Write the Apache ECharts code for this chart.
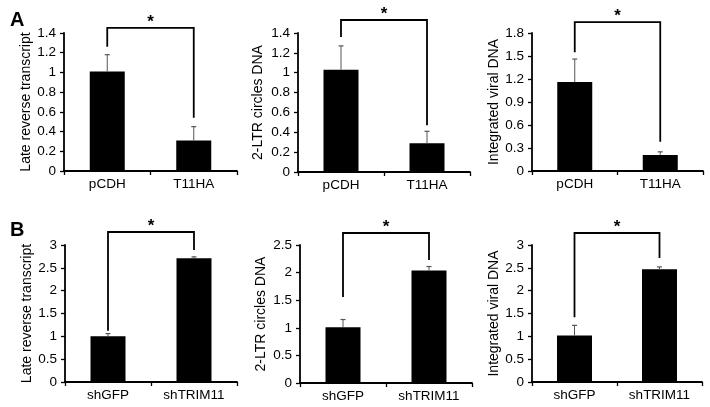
<!DOCTYPE html>
<html>
<head>
<meta charset="utf-8">
<script src="https://cdn.jsdelivr.net/npm/echarts@6/dist/echarts.min.js"></script>
<style>html,body{margin:0;padding:0;background:#fff}#c{width:710px;height:407px}</style>
</head>
<body>
<div id="c"></div>
<script>
// ---- data ----
const catsA = ['pCDH', 'T11HA'];
const catsB = ['shGFP', 'shTRIM11'];
const namesRow = ['Late reverse transcript', '2-LTR circles DNA', 'Integrated viral DNA'];

const lateA = [1.01, 0.31];
const lateAErr = [1.18, 0.45];
const ltrA = [1.03, 0.29];
const ltrAErr = [1.27, 0.41];
const intA = [1.16, 0.21];
const intAErr = [1.46, 0.25];

const lateB = [1.00, 2.71];
const lateBErr = [1.06, 2.74];
const ltrB = [1.01, 2.04];
const ltrBErr = [1.15, 2.11];
const intB = [1.02, 2.47];
const intBErr = [1.24, 2.52];

// bracket: [top, left end, right end]
const bracketLateA = [1.451, 1.26, 0.54];
const bracketLtrA = [1.531, 1.36, 0.47];
const bracketIntA = [1.943, 1.55, 0.38];
const bracketLateB = [3.285, 1.12, 2.89];
const bracketLtrB = [2.717, 1.56, 2.23];
const bracketIntB = [3.263, 1.42, 2.715];

// axis scales: [max, interval]
const axisLateA = [1.4, 0.2];
const axisLtrA = [1.4, 0.2];
const axisIntA = [1.8, 0.3];
const axisLateB = [3, 0.5];
const axisLtrB = [2.5, 0.5];
const axisIntB = [3, 0.5];

const panels = [
  {cats: catsA, name: namesRow[0], vals: lateA, err: lateAErr, br: bracketLateA, ax: axisLateA},
  {cats: catsA, name: namesRow[1], vals: ltrA, err: ltrAErr, br: bracketLtrA, ax: axisLtrA},
  {cats: catsA, name: namesRow[2], vals: intA, err: intAErr, br: bracketIntA, ax: axisIntA},
  {cats: catsB, name: namesRow[0], vals: lateB, err: lateBErr, br: bracketLateB, ax: axisLateB},
  {cats: catsB, name: namesRow[1], vals: ltrB, err: ltrBErr, br: bracketLtrB, ax: axisLtrB},
  {cats: catsB, name: namesRow[2], vals: intB, err: intBErr, br: bracketIntB, ax: axisIntB}
];

// layout
const grids = [
  {left: 64, top: 33, width: 173, height: 138},
  {left: 298, top: 33, width: 172, height: 139},
  {left: 532, top: 33, width: 171, height: 138},
  {left: 65, top: 245, width: 172, height: 137},
  {left: 300, top: 245, width: 172, height: 138},
  {left: 532, top: 245, width: 170, height: 137}
];
const nameGaps = [30, 33, 30, 30, 32, 31];

const FONT = 'Liberation Sans, Arial, sans-serif';
const option = {
  animation: false,
  backgroundColor: '#fff',
  textStyle: {fontFamily: FONT},
  title: [
    {text: 'A', left: 5, top: 5, textStyle: {fontSize: 20, fontWeight: 'bold', color: '#000', fontFamily: FONT}},
    {text: 'B', left: 5, top: 215, textStyle: {fontSize: 20, fontWeight: 'bold', color: '#000', fontFamily: FONT}}
  ],
  grid: grids.map(g => Object.assign({containLabel: false}, g)),
  xAxis: panels.map((p, i) => ({
    type: 'category', gridIndex: i, data: p.cats,
    axisLine: {lineStyle: {color: '#000', width: 1.8}},
    axisTick: {show: true, length: 4, lineStyle: {color: '#000', width: 1.3}},
    axisLabel: {color: '#000', fontSize: 13.5, margin: 6, fontFamily: FONT}
  })),
  yAxis: panels.map((p, i) => ({
    type: 'value', gridIndex: i, min: 0, max: p.ax[0], interval: p.ax[1],
    name: p.name, nameLocation: 'middle', nameGap: nameGaps[i],
    nameTextStyle: {color: '#000', fontSize: 14, fontFamily: FONT},
    splitLine: {show: false},
    axisLine: {show: true, lineStyle: {color: '#000', width: 1.8}},
    axisTick: {show: true, length: 4, lineStyle: {color: '#000', width: 1.3}},
    axisLabel: {color: '#000', fontSize: 13.5, margin: 8, fontFamily: FONT}
  })),
  series: []
};

panels.forEach((p, i) => {
  option.series.push({
    type: 'bar', xAxisIndex: i, yAxisIndex: i, data: p.vals, barWidth: 35,
    itemStyle: {color: '#000'}, z: 2
  });
  option.series.push({
    type: 'custom', xAxisIndex: i, yAxisIndex: i, z: 3,
    data: p.vals.map((v, k) => [k, v, p.err[k]]),
    renderItem: function (params, api) {
      const a = api.coord([api.value(0), api.value(1)]);
      const b = api.coord([api.value(0), api.value(2)]);
      return {
        type: 'group', children: [
          {type: 'line', shape: {x1: a[0], y1: a[1], x2: b[0], y2: b[1]}, style: {stroke: '#555', lineWidth: 1}},
          {type: 'line', shape: {x1: b[0] - 2.5, y1: b[1], x2: b[0] + 2.5, y2: b[1]}, style: {stroke: '#555', lineWidth: 1.2}}
        ]
      };
    }
  });
  option.series.push({
    type: 'custom', xAxisIndex: i, yAxisIndex: i, z: 4, clip: false,
    data: [p.br],
    renderItem: function (params, api) {
      const top = api.value(0), l = api.value(1), r = api.value(2);
      const p1 = api.coord([0, l]);
      const p2 = api.coord([0, top]);
      const p3 = api.coord([1, top]);
      const p4 = api.coord([1, r]);
      return {
        type: 'group', children: [
          {type: 'polyline', shape: {points: [p1, p2, p3, p4]}, style: {stroke: '#000', lineWidth: 1.8, fill: null}},
          {type: 'text', x: (p2[0] + p3[0]) / 2, y: p2[1] + 3,
           style: {text: '*', fontSize: 17, fontWeight: 'bold', fill: '#000', align: 'center', verticalAlign: 'bottom', fontFamily: FONT}}
        ]
      };
    }
  });
});

const chart = echarts.init(document.getElementById('c'), null, {renderer: 'canvas'});
chart.setOption(option);
</script>
</body>
</html>
